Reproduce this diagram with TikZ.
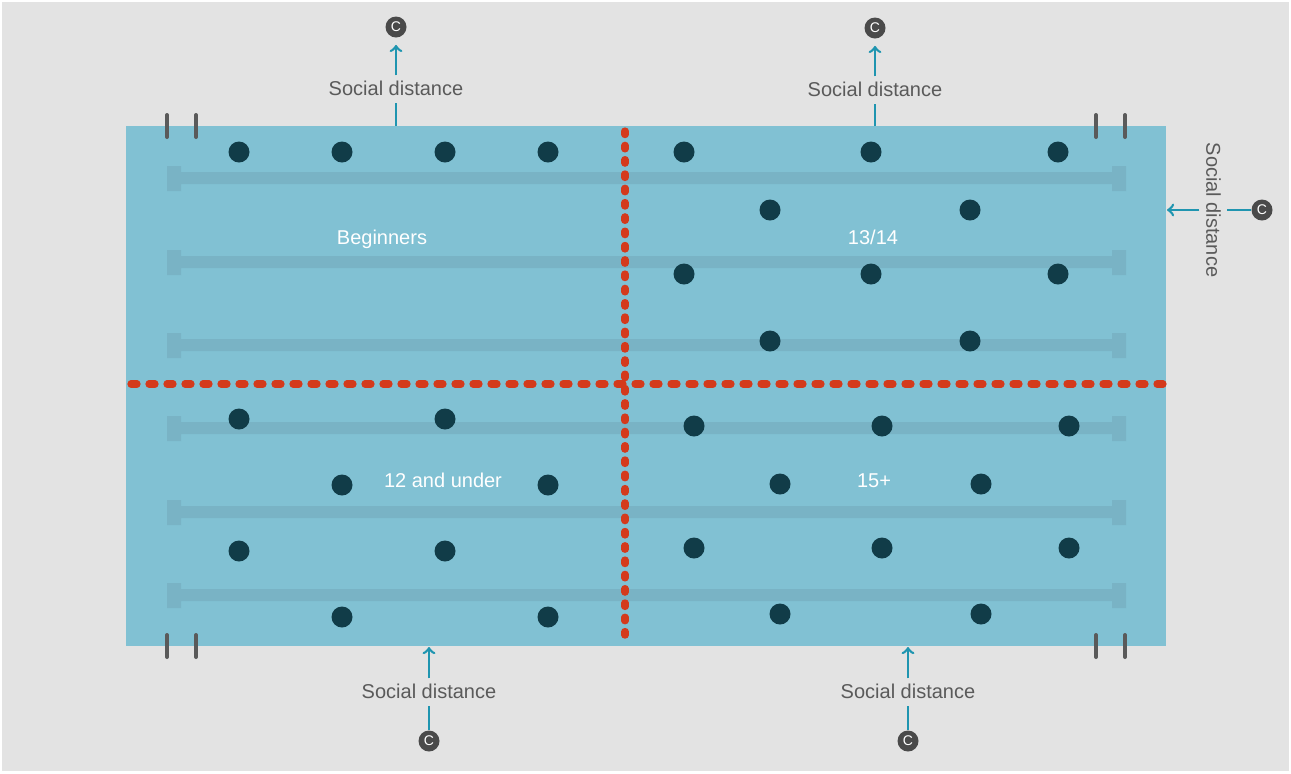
\documentclass[tikz,border=0pt]{standalone}
\usepackage{fontspec}
\setmainfont{Liberation Sans}
\usepackage{tikz}
\usetikzlibrary{calc, positioning, backgrounds}
\definecolor{bggray}{HTML}{E3E3E3}
\definecolor{poolblue}{HTML}{81C1D3}
\definecolor{laneblue}{HTML}{79B3C5}
\definecolor{swimdark}{HTML}{113C48}
\definecolor{redrope}{HTML}{D43A1C}
\definecolor{linkteal}{HTML}{1F95B0}
\definecolor{textgray}{HTML}{5A5A5A}
\definecolor{coachgray}{HTML}{4A4A4A}
\tikzstyle{swimmer}=[inner sep=0pt, shape=circle, fill=swimdark, minimum size=10.5pt]
\tikzstyle{coach}=[inner sep=0pt, shape=circle, fill=coachgray, minimum size=10.5pt, text=white, font=\fontsize{7}{7}\selectfont]
\tikzstyle{dist}=[inner sep=2pt, fill=bggray, text=textgray, font=\fontsize{10}{12}\selectfont, text height=1.5ex, text depth=0.25ex]
\tikzstyle{grouplabel}=[inner sep=0pt, text=white, font=\fontsize{10}{12}\selectfont, text height=1.5ex, text depth=0.25ex]
\tikzstyle{divider}=[draw=redrope, line width=3.6pt, line cap=round]
\tikzstyle{startmark}=[draw=textgray, line width=2pt, line cap=round]
\tikzstyle{link}=[draw=linkteal, line width=1.3pt]
\tikzset{>=to}

\begin{document}
\begin{tikzpicture}[x=0.5pt, y=-0.5pt]
% background and pool
\fill[white] (0,0) rectangle (1291,773);
\fill[bggray] (2,2) rectangle (1289,771);
\fill[poolblue] (126,126) rectangle (1166,646);
% the lane ropes with their end blocks
\fill[laneblue] (174,172) rectangle (1119,184) (167,166) rectangle (181,191) (1112,166) rectangle (1126,191);
\fill[laneblue] (174,256) rectangle (1119,268) (167,250) rectangle (181,275) (1112,250) rectangle (1126,275);
\fill[laneblue] (174,339) rectangle (1119,351) (167,333) rectangle (181,358) (1112,333) rectangle (1126,358);
\fill[laneblue] (174,422) rectangle (1119,434) (167,416) rectangle (181,441) (1112,416) rectangle (1126,441);
\fill[laneblue] (174,506) rectangle (1119,518) (167,500) rectangle (181,525) (1112,500) rectangle (1126,525);
\fill[laneblue] (174,589) rectangle (1119,601) (167,583) rectangle (181,608) (1112,583) rectangle (1126,608);
% the start marks at the corners
\draw[startmark] (167,115) -- (167,137);
\draw[startmark] (196,115) -- (196,137);
\draw[startmark] (1096,115) -- (1096,137);
\draw[startmark] (1125,115) -- (1125,137);
\draw[startmark] (167,635) -- (167,657);
\draw[startmark] (196,635) -- (196,657);
\draw[startmark] (1096,635) -- (1096,657);
\draw[startmark] (1125,635) -- (1125,657);
% the red dividers
\draw[divider, dash pattern=on 1.8pt off 5.35pt] (625,131) -- (625,643);
\draw[divider, dash pattern=on 3pt off 6pt] (131,384) -- (1163,384);
% the ``Beginners'' swimmers
\node[swimmer] (B1) at (239,152) {};
\node[swimmer] (B2) at (342,152) {};
\node[swimmer] (B3) at (445,152) {};
\node[swimmer] (B4) at (548,152) {};
% the ``13/14'' swimmers
\node[swimmer] (T1) at (684,152) {};
\node[swimmer] (T2) at (871,152) {};
\node[swimmer] (T3) at (1058,152) {};
\node[swimmer] (T4) at (770,210) {};
\node[swimmer] (T5) at (970,210) {};
\node[swimmer] (T6) at (684,274) {};
\node[swimmer] (T7) at (871,274) {};
\node[swimmer] (T8) at (1058,274) {};
\node[swimmer] (T9) at (770,341) {};
\node[swimmer] (T10) at (970,341) {};
% the ``12 and under'' swimmers
\node[swimmer] (U1) at (239,419) {};
\node[swimmer] (U2) at (445,419) {};
\node[swimmer] (U3) at (342,485) {};
\node[swimmer] (U4) at (548,485) {};
\node[swimmer] (U5) at (239,551) {};
\node[swimmer] (U6) at (445,551) {};
\node[swimmer] (U7) at (342,617) {};
\node[swimmer] (U8) at (548,617) {};
% the ``15+'' swimmers
\node[swimmer] (F1) at (694,426) {};
\node[swimmer] (F2) at (882,426) {};
\node[swimmer] (F3) at (1069,426) {};
\node[swimmer] (F4) at (780,484) {};
\node[swimmer] (F5) at (981,484) {};
\node[swimmer] (F6) at (694,548) {};
\node[swimmer] (F7) at (882,548) {};
\node[swimmer] (F8) at (1069,548) {};
\node[swimmer] (F9) at (780,614) {};
\node[swimmer] (F10) at (981,614) {};
% the group names
\node[grouplabel] (Gb) at (382,238) {Beginners};
\node[grouplabel] (Gt) at (873,238) {13/14};
\node[grouplabel] (Gu) at (443,481) {12 and under};
\node[grouplabel] (Gf) at (874,481) {15+};
% the coaches and the social distances
\node[coach] (C1) at (396,27) {C};
\node[dist] (D1) at (396,89) {Social distance};
\coordinate (E1) at (396,126);
\node[coach] (C2) at (875,28) {C};
\node[dist] (D2) at (875,90) {Social distance};
\coordinate (E2) at (875,126);
\node[coach] (C3) at (1262,210) {C};
\node[dist, rotate=-90] (D3) at (1213,210) {Social distance};
\coordinate (E3) at (1167,210);
\node[coach] (C4) at (429,741) {C};
\node[dist] (D4) at (429,692) {Social distance};
\coordinate (E4) at (429,647);
\node[coach] (C5) at (908,741) {C};
\node[dist] (D5) at (908,692) {Social distance};
\coordinate (E5) at (908,647);
\draw[link] (E1) -- (D1);
\draw[link, ->, shorten >=3.5pt] (D1) -- (C1);
\draw[link] (E2) -- (D2);
\draw[link, ->, shorten >=3.5pt] (D2) -- (C2);
\draw[link] (C3) -- (D3);
\draw[link, ->] (D3) -- (E3);
\draw[link] (C4) -- (D4);
\draw[link, ->] (D4) -- (E4);
\draw[link] (C5) -- (D5);
\draw[link, ->] (D5) -- (E5);
\end{tikzpicture}
\end{document}
